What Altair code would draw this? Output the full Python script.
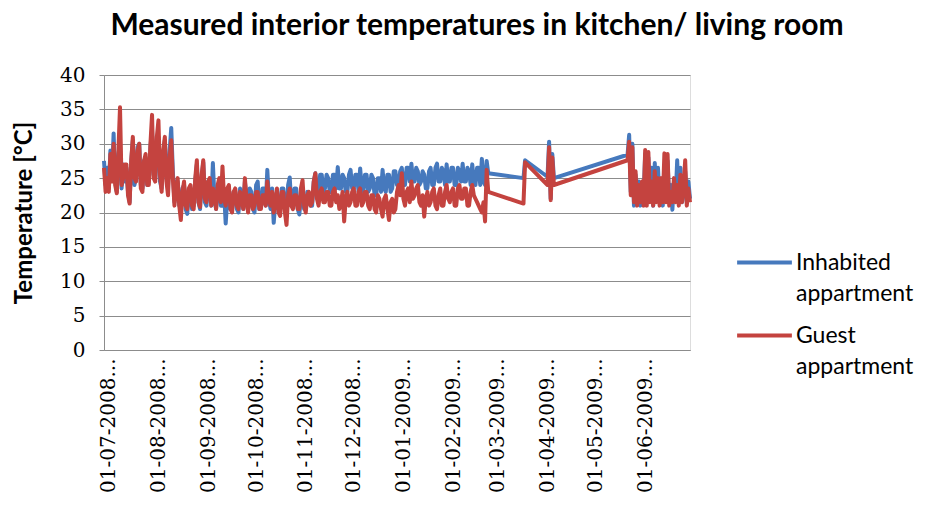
import altair as alt
import pandas as pd

TITLE = "Measured interior temperatures in kitchen/ living room"
Y_TITLE = "Temperature [°C]"
SERIES = ["Inhabited appartment", "Guest appartment"]
COLORS = ["#4679bd", "#c4433f"]

# Dense period: daily readings from 28-06-2008 to 21-02-2009
DENSE_START = "2008-06-28"
INHABITED_A = [
    27.5, 24.0, 26.5, 23.5, 29.0, 25.0, 31.5, 24.5, 23.0, 28.5,
    30.0, 23.5, 27.0, 24.5, 26.5, 23.0, 21.5, 27.5, 30.5, 24.0,
    25.0, 29.5, 30.0, 24.0, 23.5, 27.5, 28.0, 24.0, 24.5, 29.5,
    32.0, 25.5, 25.0, 30.0, 31.0, 24.5, 23.5, 28.5, 30.5, 25.0,
    24.0, 29.0, 32.3, 26.0, 21.5, 24.5, 24.5, 21.0, 21.0, 23.5,
    24.0, 20.5, 19.8, 23.0, 23.5, 20.5, 21.0, 24.5, 27.0, 21.5,
    20.5, 25.0, 27.3, 21.5, 21.0, 24.5, 24.0, 21.0, 27.2, 22.0,
    20.5, 23.5, 24.0, 21.0, 21.0, 23.0, 18.4, 22.0, 23.5, 20.5,
    20.5, 23.0, 23.0, 20.5, 20.0, 23.5, 22.5, 20.5, 24.5, 22.0,
    20.5, 23.5, 23.0, 20.5, 20.0, 24.0, 24.5, 20.5, 21.0, 23.5,
    23.5, 21.0, 26.2, 22.0, 20.5, 23.5, 18.5, 21.5, 23.0, 20.5,
    20.5, 23.5, 23.5, 20.5, 20.0, 24.0, 25.1, 21.0, 21.0, 23.5,
    23.5, 20.5, 19.7, 22.5, 23.0, 20.5, 20.5, 23.0, 22.5, 21.0,
    21.0, 24.5, 25.7, 23.0, 23.0, 25.5, 25.5, 23.0, 23.5, 25.5,
    25.0, 23.0, 23.0, 25.5, 25.5, 23.5, 26.6, 23.5, 23.5, 25.5,
    25.0, 23.0, 23.0, 25.5, 26.2, 23.5, 23.5, 25.5, 25.5, 23.0,
    26.4, 23.5, 23.0, 25.5, 25.5, 23.0, 23.5, 25.5, 25.0, 22.5,
    22.5, 25.0, 25.0, 23.0, 26.2, 23.5, 23.0, 25.5, 25.5, 23.0,
    23.5, 26.0, 26.0, 24.0, 24.0, 26.0, 26.5, 24.0, 24.0, 26.5,
    26.5, 24.5, 27.1, 24.5, 24.5, 26.5, 26.0, 24.0, 24.5, 26.0,
    25.5, 23.5, 23.5, 26.0, 26.5, 24.0, 24.0, 26.5, 27.1, 24.5,
    24.5, 26.5, 26.0, 24.0, 27.0, 24.5, 24.5, 26.5, 26.5, 24.0,
    24.0, 26.5, 26.0, 24.5, 27.1, 24.5, 24.5, 26.5, 26.0, 24.0,
    27.0, 24.5, 24.0, 26.5, 26.5, 24.0, 27.8, 24.5, 24.0,
]
GUEST_A = [
    26.5, 23.0, 25.0, 23.0, 28.5, 24.5, 30.0, 24.0, 22.8, 29.0,
    35.3, 24.0, 25.0, 27.0, 27.0, 22.5, 21.3, 27.5, 31.0, 25.0,
    24.5, 29.0, 30.0, 23.5, 23.0, 27.5, 28.5, 24.0, 24.0, 30.0,
    34.2, 25.0, 24.5, 31.0, 33.4, 25.5, 23.0, 29.0, 31.0, 24.5,
    22.5, 28.0, 30.5, 25.0, 21.0, 23.5, 25.0, 21.0, 18.9, 23.0,
    24.5, 21.0, 20.5, 23.5, 24.0, 21.0, 20.5, 25.0, 27.6, 21.5,
    20.8, 25.5, 27.6, 22.0, 21.5, 24.5, 25.0, 21.0, 23.5, 22.5,
    20.5, 24.0, 25.0, 21.5, 26.7, 22.0, 21.0, 23.5, 24.0, 20.5,
    20.0, 23.0, 23.5, 21.0, 20.5, 23.0, 22.0, 20.5, 25.0, 22.0,
    20.0, 22.5, 22.5, 20.5, 21.0, 23.0, 23.0, 20.5, 20.5, 22.5,
    22.5, 21.0, 24.5, 22.0, 21.0, 23.0, 20.0, 21.5, 23.5, 20.0,
    19.5, 23.0, 23.0, 20.0, 18.2, 22.5, 23.5, 21.0, 20.5, 22.5,
    22.5, 20.5, 20.5, 23.5, 24.7, 21.0, 20.0, 22.5, 23.0, 21.0,
    21.5, 24.5, 25.7, 22.0, 21.0, 23.0, 23.5, 21.5, 21.5, 23.0,
    23.0, 21.0, 21.0, 23.0, 23.5, 21.5, 22.5, 20.5, 21.5, 23.0,
    18.7, 22.0, 23.0, 21.0, 21.5, 23.0, 23.5, 21.0, 21.0, 23.0,
    23.5, 21.0, 21.5, 23.0, 23.0, 21.0, 20.5, 22.5, 22.5, 20.5,
    20.0, 22.5, 22.0, 20.5, 19.4, 22.0, 22.5, 20.5, 18.9, 21.5,
    22.0, 20.0, 20.5, 23.0, 24.0, 22.5, 25.7, 22.0, 21.0, 23.0,
    23.5, 21.5, 24.5, 22.0, 22.5, 23.5, 24.0, 21.5, 21.0, 22.5,
    19.4, 22.0, 23.0, 21.0, 21.5, 23.0, 23.5, 21.0, 20.5, 22.5,
    23.5, 21.0, 21.0, 23.0, 24.0, 22.0, 21.5, 23.0, 23.5, 21.0,
    21.0, 23.5, 24.0, 22.0, 22.0, 23.5, 23.5, 21.0, 21.0, 23.0,
    24.0, 22.5, 22.0, 21.5, 21.0, 20.5, 20.0, 21.5, 18.7,
]

# Sparse spring readings
SPRING_DATES = [
    "2009-02-22", "2009-02-23", "2009-03-17", "2009-03-18", "2009-04-01",
    "2009-04-02", "2009-04-03", "2009-04-04", "2009-04-05", "2009-05-21",
]
INHABITED_B = [27.5, 25.7, 25.0, 27.6, 25.2, 30.3, 22.0, 28.5, 25.0, 28.4]
GUEST_B = [26.2, 23.0, 21.3, 27.3, 24.0, 29.5, 21.8, 28.0, 24.0, 27.6]

# Daily readings 22-05-2009 to 29-06-2009
SUMMER_START = "2009-05-22"
INHABITED_C = [
    31.3, 23.0, 30.0, 21.0, 25.5, 22.0, 24.5, 21.0, 23.5, 22.0,
    28.5, 21.5, 28.0, 22.0, 26.5, 21.0, 27.2, 22.0, 26.5, 21.5,
    24.5, 21.0, 26.0, 22.0, 27.5, 21.5, 24.0, 20.4, 24.5, 22.0,
    27.6, 21.5, 26.5, 21.5, 23.5, 26.0, 21.5, 24.5, 22.0,
]
GUEST_C = [
    30.3, 22.5, 29.5, 21.5, 26.0, 21.0, 24.0, 21.5, 24.5, 21.0,
    29.1, 21.0, 28.8, 21.5, 24.5, 21.0, 26.0, 21.5, 25.0, 21.0,
    25.0, 21.5, 28.6, 21.5, 28.5, 21.0, 23.0, 21.5, 25.0, 21.5,
    24.0, 21.0, 25.5, 21.5, 24.0, 27.6, 21.0, 23.5, 21.5,
]

MONTH_TICKS = [(2008, m) for m in range(7, 13)] + [(2009, m) for m in range(1, 7)]
Y_TICKS = list(range(0, 41, 5))

dates_a = list(pd.date_range(DENSE_START, periods=len(INHABITED_A), freq="D").strftime("%Y-%m-%d"))
dates_c = list(pd.date_range(SUMMER_START, periods=len(INHABITED_C), freq="D").strftime("%Y-%m-%d"))
all_dates = dates_a + SPRING_DATES + dates_c

rows = []
for name, vals in [(SERIES[0], INHABITED_A + INHABITED_B + INHABITED_C),
                   (SERIES[1], GUEST_A + GUEST_B + GUEST_C)]:
    for d, v in zip(all_dates, vals):
        rows.append({"date": d, "temp": v, "series": name})
df = pd.DataFrame(rows)

grey = "#8c8c8c"

chart = alt.Chart(df).mark_line(strokeWidth=4, strokeJoin="round").encode(
    x=alt.X(
        "date:T",
        scale=alt.Scale(
            type="utc",
            domain=[alt.DateTime(year=2008, month=6, date=28, utc=True),
                    alt.DateTime(year=2009, month=6, date=29, utc=True)],
        ),
        axis=alt.Axis(
            values=[alt.DateTime(year=y, month=m, date=1, utc=True) for y, m in MONTH_TICKS],
            labelExpr="utcFormat(datum.value, '%d-%m-%Y') + '...'",
            labelAngle=270,
            labelAlign="right",
            labelBaseline="middle",
            labelFont="DejaVu Serif",
            labelFontSize=20,
            labelColor="black",
            labelPadding=8,
            labelOverlap=False,
            ticks=False,
            grid=False,
            domainColor=grey,
            title=None,
        ),
    ),
    y=alt.Y(
        "temp:Q",
        scale=alt.Scale(domain=[0, 40], nice=False),
        axis=alt.Axis(
            values=Y_TICKS,
            title=Y_TITLE,
            titleFont="Lato",
            titleFontSize=24,
            titleFontWeight="bold",
            titleColor="black",
            titlePadding=23,
            labelFont="DejaVu Serif",
            labelFontSize=20,
            labelColor="black",
            labelPadding=14,
            tickSize=5,
            tickColor=grey,
            domainColor=grey,
            gridColor=grey,
            gridWidth=1.2,
        ),
    ),
    color=alt.Color(
        "series:N",
        scale=alt.Scale(domain=SERIES, range=COLORS),
        legend=alt.Legend(
            title=None,
            orient="none",
            legendX=631,
            legendY=158,
            symbolType="stroke",
            symbolStrokeWidth=4,
            symbolSize=3000,
            labelFont="Lato",
            labelFontSize=23,
            labelColor="black",
            labelExpr="split(datum.label, ' ')",
            labelLimit=300,
            labelOffset=2,
            rowPadding=0,
            padding=0,
        ),
    ),
).properties(
    width=586,
    height=275,
    padding={"left": 96, "top": 67, "right": 230, "bottom": 148},
    autosize=alt.AutoSizeParams(type="none"),
    title=alt.TitleParams(
        TITLE,
        font="Lato",
        fontSize=30,
        fontWeight="bold",
        color="black",
        anchor="middle",
        dx=80,
        offset=24,
    ),
).configure_view(stroke=None).configure(
    background="white",
    style={"guide-label": {"lineHeight": 31}},
)

chart.save("out.html", embed_options={"renderer": "svg", "actions": False})
